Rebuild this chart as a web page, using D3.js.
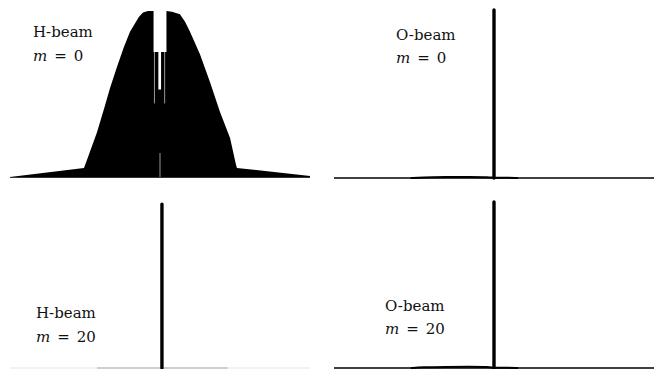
<!DOCTYPE html>
<html>
<head>
<meta charset="utf-8">
<script src="https://cdn.jsdelivr.net/npm/d3@7"></script>
<style>
  body { margin: 0; background: #fff; }
</style>
</head>
<body>
<svg id="canvas" width="655" height="369"></svg>
<script>
// H-beam, m = 0 : outline of the dense stem field (u = normalised angle, v = amplitude)
const hBeamM0U = [-1, -0.507, -0.487, -0.42, -0.373, -0.333, -0.287, -0.24, -0.2, -0.167, -0.14, -0.113, -0.08, -0.043,
  -0.043, -0.011, -0.011, 0.007, 0.007, 0.043,
  0.043, 0.08, 0.133, 0.167, 0.2, 0.267, 0.333, 0.4, 0.467, 0.507, 0.513, 1];
const hBeamM0V = [0.003, 0.057, 0.104, 0.27, 0.41, 0.535, 0.66, 0.78, 0.87, 0.92, 0.96, 0.985, 0.994, 0.994,
  0.749, 0.749, 0.525, 0.525, 0.749, 0.749,
  0.994, 0.99, 0.975, 0.93, 0.87, 0.735, 0.57, 0.391, 0.236, 0.075, 0.057, 0.009];

// thin white seams between stems
const seamU = [-0.037, 0, 0.031];
const seamTop = [0.749, 0.146, 0.749];
const seamBottom = [0.442, 0, 0.442];

// single main lobe for the other three cases
const panelNames = ["H-beam", "O-beam", "H-beam", "O-beam"];
const panelM = ["0", "0", "20", "20"];
const spikeU = [null, 0, 0.013, 0];
const spikeV = [null, 1, 0.953, 0.965];

// weak side lobes just above the floor (O-beam)
const lobeU = [-0.52, -0.45, -0.3, -0.15, -0.03, 0, 0.05, 0.15];
const lobeV = [0, 0.004, 0.006, 0.007, 0.006, 0, 0.003, 0];

// faint floor of the H-beam m = 20 case
const floorU = [-0.42, 0.45];

const svg = d3.select("#canvas");
const serif = "DejaVu Serif";

// panel frames: x pixel range, baseline, top
const panels = [
  { x0: 10, x1: 310, base: 177.5, top: 10, tx: 33, ty: 37, my: 61 },
  { x0: 334, x1: 654, base: 178, top: 10, tx: 396, ty: 40, my: 63 },
  { x0: 10, x1: 310, base: 368, top: 196, tx: 36, ty: 318, my: 342 },
  { x0: 334, x1: 654, base: 368, top: 196, tx: 385, ty: 311, my: 334 }
];

panels.forEach((p, i) => {
  const x = d3.scaleLinear().domain([-1, 1]).range([p.x0, p.x1]);
  const y = d3.scaleLinear().domain([0, 1]).range([p.base, p.top]);
  const g = svg.append("g");

  if (i === 0) {
    // filled envelope
    const pts = hBeamM0U.map((u, k) => [u, hBeamM0V[k]]);
    g.append("path")
      .datum(pts)
      .attr("d", d3.area().x(d => x(d[0])).y0(y(0)).y1(d => y(d[1])))
      .attr("fill", "#000");

    g.selectAll(".seam")
      .data(seamU)
      .enter().append("line")
      .attr("x1", d => x(d)).attr("x2", d => x(d))
      .attr("y1", (d, k) => y(seamTop[k]))
      .attr("y2", (d, k) => y(seamBottom[k]))
      .attr("stroke", "#fff")
      .attr("stroke-width", 0.6);

    g.append("line")
      .attr("x1", x(-1)).attr("x2", x(1))
      .attr("y1", y(0)).attr("y2", y(0))
      .attr("stroke", "#333")
      .attr("stroke-width", 1);
  } else {
    // floor line
    if (i === 2) {
      g.append("line")
        .attr("x1", x(-1)).attr("x2", x(1))
        .attr("y1", y(0)).attr("y2", y(0))
        .attr("stroke", "#e6e6e6").attr("stroke-width", 1.2);
      g.append("line")
        .attr("x1", x(floorU[0])).attr("x2", x(floorU[1]))
        .attr("y1", y(0)).attr("y2", y(0))
        .attr("stroke", "#aaa").attr("stroke-width", 1.2);
    } else {
      g.append("line")
        .attr("x1", x(-1)).attr("x2", x(1))
        .attr("y1", y(0)).attr("y2", y(0))
        .attr("stroke", "#000").attr("stroke-width", 1.6);
      const lobe = lobeU.map((u, k) => [u, lobeV[k]]);
      g.append("path")
        .datum(lobe)
        .attr("d", d3.line().x(d => x(d[0])).y(d => y(d[1])).curve(d3.curveBasis))
        .attr("fill", "none")
        .attr("stroke", "#000")
        .attr("stroke-width", 2);
    }

    // main spike
    g.append("line")
      .attr("x1", x(spikeU[i])).attr("x2", x(spikeU[i]))
      .attr("y1", y(0)).attr("y2", y(spikeV[i]))
      .attr("stroke", "#000")
      .attr("stroke-width", 3.4)
      .attr("stroke-linecap", "round");
  }

  // labels
  g.append("text")
    .attr("x", p.tx).attr("y", p.ty)
    .style("font-family", serif)
    .attr("font-size", 15)
    .attr("fill", "#111")
    .text(panelNames[i]);

  const m = g.append("text")
    .attr("x", p.tx).attr("y", p.my)
    .style("font-family", serif)
    .attr("font-size", 15)
    .attr("fill", "#111");
  m.append("tspan").attr("font-style", "italic").text("m");
  m.append("tspan").attr("dx", 7).text("=");
  m.append("tspan").attr("dx", 7).text(panelM[i]);
});
</script>
</body>
</html>
